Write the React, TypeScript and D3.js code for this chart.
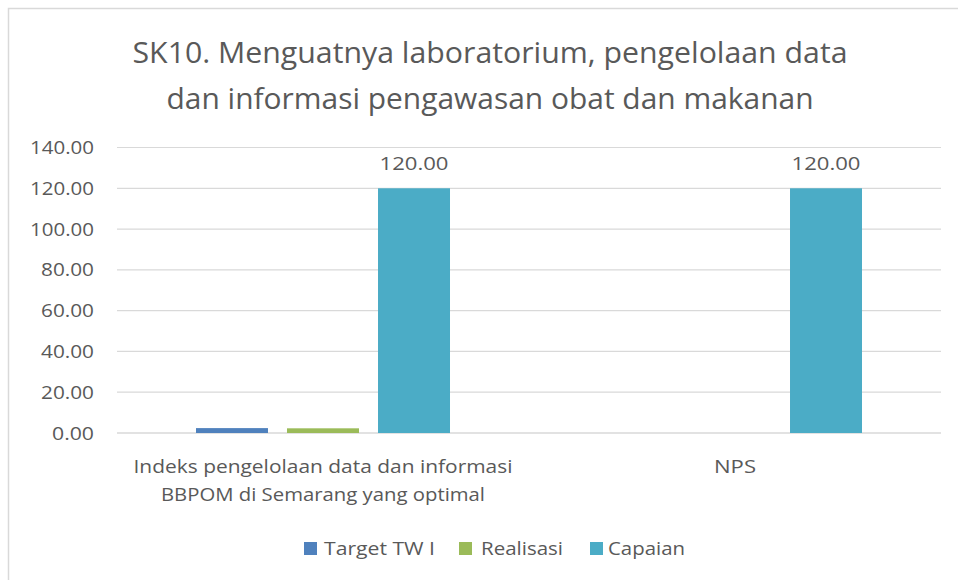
import { useEffect } from 'react';
import * as d3 from 'd3';

const categories = ['Indeks pengelolaan data dan informasi|BBPOM di Semarang yang optimal', 'NPS'];
const seriesNames = ['Target TW I', 'Realisasi', 'Capaian'];
const targetTW = [2.4, 0];
const realisasi = [2.3, 0];
const capaian = [120, 120];
const yTicks = [0, 20, 40, 60, 80, 100, 120, 140];
const titleLines = ['SK10. Menguatnya laboratorium, pengelolaan data', 'dan informasi pengawasan obat dan makanan'];

const COLORS = ['#4f81bd', '#9bbb59', '#4bacc6'];
const TXT = '#595959';
const GRID = '#d9d9d9';
const FONT = 'Open Sans, Lato, sans-serif';

export default function App() {
  useEffect(() => { document.body.style.margin = '0'; }, []);

  const W = 958, H = 580;
  const PL = 117, PR = 941, PT = 147.5, PB = 433;
  const values = [targetTW, realisasi, capaian];

  const x0 = d3.scaleBand().domain(categories).range([PL, PR]);
  const x1 = d3.scaleBand().domain(seriesNames).range([0, x0.bandwidth()])
    .paddingInner(0.209).paddingOuter(0.868);
  const y = d3.scaleLinear().domain([0, 140]).range([PB, PT]);

  // legend layout (marker x, text x, text width)
  const legend = [
    { mx: 304, tx: 324, tw: 111 },
    { mx: 459, tx: 481, tw: 82 },
    { mx: 590, tx: 608, tw: 77 },
  ];

  return (
    <svg width={W} height={H} style={{ display: 'block', background: '#fff' }} fontFamily={FONT}>
      {/* chart frame */}
      <path d={`M8.5,${H + 2} V8.5 H${W + 2}`} fill="none" stroke={GRID} strokeWidth={1.5} />

      {titleLines.map((t, i) => (
        <text key={i} x={490} y={63 + i * 46} textAnchor="middle" fontSize={29} fill={TXT}
          textLength={i === 0 ? 715 : 647} lengthAdjust="spacingAndGlyphs">{t}</text>
      ))}

      {/* grid + y labels */}
      {yTicks.map(t => (
        <g key={t}>
          <line x1={PL} x2={PR} y1={y(t)} y2={y(t)} stroke={GRID} strokeWidth={t === 0 ? 1.6 : 1.2} />
          <text x={94} y={y(t) + 6.5} textAnchor="end" fontSize={18} fill={TXT}
            textLength={t >= 100 ? 64 : t === 0 ? 42 : 53} lengthAdjust="spacingAndGlyphs">{t.toFixed(2)}</text>
        </g>
      ))}

      {/* bars */}
      {categories.map((c, ci) => (
        <g key={c} transform={`translate(${x0(c)},0)`}>
          {seriesNames.map((s, si) => {
            const v = values[si][ci];
            if (!v) return null;
            return (
              <rect key={s} x={x1(s)} y={y(v)} width={x1.bandwidth()} height={PB - y(v)} fill={COLORS[si]} />
            );
          })}
          {/* data labels for Capaian */}
          <text x={(x1('Capaian') ?? 0) + x1.bandwidth() / 2} y={y(capaian[ci]) - 18} textAnchor="middle"
            fontSize={18} fill={TXT} textLength={69} lengthAdjust="spacingAndGlyphs">{capaian[ci].toFixed(2)}</text>
        </g>
      ))}

      {/* category labels */}
      {categories.map(c => {
        const lines = c.split('|');
        const cx = (x0(c) ?? 0) + x0.bandwidth() / 2;
        return lines.map((l, li) => (
          <text key={c + li} x={cx} y={473 + li * 28} textAnchor="middle" fontSize={18} fill={TXT}
            textLength={lines.length > 1 ? (li === 0 ? 379 : 324) : 42} lengthAdjust="spacingAndGlyphs">{l}</text>
        ));
      })}

      {/* legend */}
      {seriesNames.map((s, i) => (
        <g key={s}>
          <rect x={legend[i].mx} y={542} width={13} height={13} fill={COLORS[i]} />
          <text x={legend[i].tx} y={555} fontSize={18} fill={TXT}
            textLength={legend[i].tw} lengthAdjust="spacingAndGlyphs">{s}</text>
        </g>
      ))}
    </svg>
  );
}
